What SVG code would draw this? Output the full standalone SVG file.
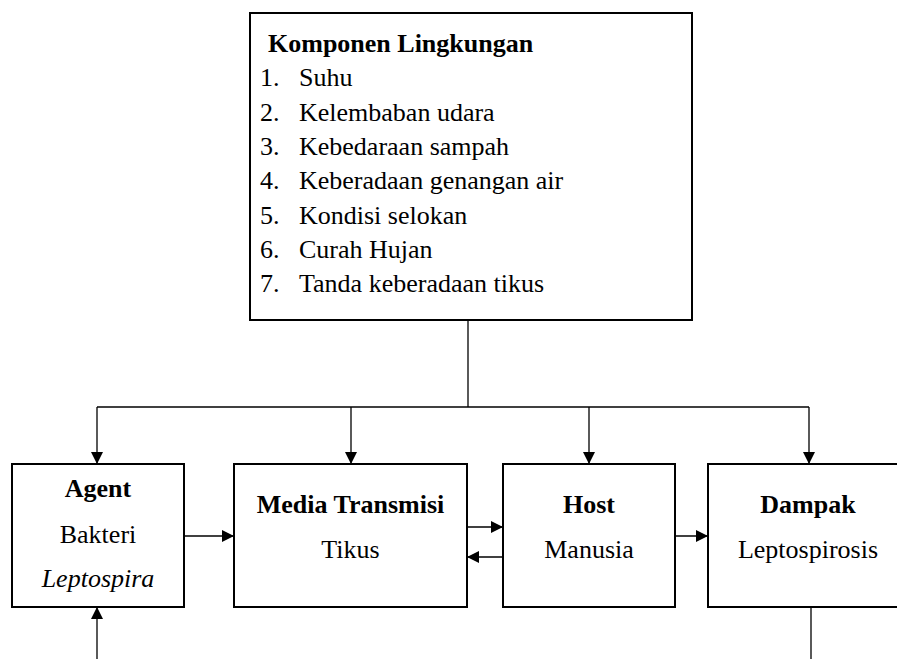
<svg xmlns="http://www.w3.org/2000/svg" width="897" height="659" viewBox="0 0 897 659">
<style>
.box{fill:#fff;stroke:#000;stroke-width:2}
.ln{fill:none;stroke:#000;stroke-width:1.3}
text{font-family:"Liberation Serif","Times New Roman",serif;font-size:26px;fill:#000}
.b{font-weight:bold}
.c{text-anchor:middle}
.i{font-style:italic}
</style>
<defs>
<marker id="ah" viewBox="0 0 12 12" refX="12" refY="6" markerWidth="12" markerHeight="12" markerUnits="userSpaceOnUse" orient="auto">
<path d="M0,0 L12,6 L0,12 Z" fill="#000"/>
</marker>
</defs>
<rect width="897" height="659" fill="#fff"/>
<g id="connectors">
<path class="ln" d="M468,320 V407"/>
<path class="ln" d="M97,407 H809"/>
<path class="ln" d="M97,407 V464" marker-end="url(#ah)"/>
<path class="ln" d="M351,407 V464" marker-end="url(#ah)"/>
<path class="ln" d="M589,407 V464" marker-end="url(#ah)"/>
<path class="ln" d="M809,407 V464" marker-end="url(#ah)"/>
<path class="ln" d="M184,536 H234" marker-end="url(#ah)"/>
<path class="ln" d="M467,527 H503" marker-end="url(#ah)"/>
<path class="ln" d="M503,557 H467" marker-end="url(#ah)"/>
<path class="ln" d="M675,536 H708" marker-end="url(#ah)"/>
<path class="ln" d="M97,659 V607" marker-end="url(#ah)"/>
<path class="ln" d="M811,607 V659"/>
</g>
<g id="komponen">
<rect class="box" x="250" y="13" width="442" height="307"/>
<text class="b" x="268" y="52">Komponen Lingkungan</text>
<text x="260" y="86">1.</text><text x="299" y="86">Suhu</text>
<text x="260" y="120.5">2.</text><text x="299" y="120.5">Kelembaban udara</text>
<text x="260" y="155">3.</text><text x="299" y="155">Kebedaraan sampah</text>
<text x="260" y="189">4.</text><text x="299" y="189">Keberadaan genangan air</text>
<text x="260" y="223.5">5.</text><text x="299" y="223.5">Kondisi selokan</text>
<text x="260" y="258">6.</text><text x="299" y="258">Curah Hujan</text>
<text x="260" y="292">7.</text><text x="299" y="292">Tanda keberadaan tikus</text>
</g>
<g id="agent">
<rect class="box" x="12" y="464" width="172" height="143"/>
<text class="b c" x="98" y="497">Agent</text>
<text class="c" x="98" y="543">Bakteri</text>
<text class="c i" x="98" y="587">Leptospira</text>
</g>
<g id="media">
<rect class="box" x="234" y="464" width="233" height="143"/>
<text class="b c" x="350.5" y="513">Media Transmisi</text>
<text class="c" x="350.5" y="558">Tikus</text>
</g>
<g id="host">
<rect class="box" x="503" y="464" width="172" height="143"/>
<text class="b c" x="589" y="513">Host</text>
<text class="c" x="589" y="558">Manusia</text>
</g>
<g id="dampak">
<rect class="box" x="708" y="464" width="200" height="143"/>
<text class="b c" x="808" y="513">Dampak</text>
<text class="c" x="808" y="558">Leptospirosis</text>
</g>
</svg>
